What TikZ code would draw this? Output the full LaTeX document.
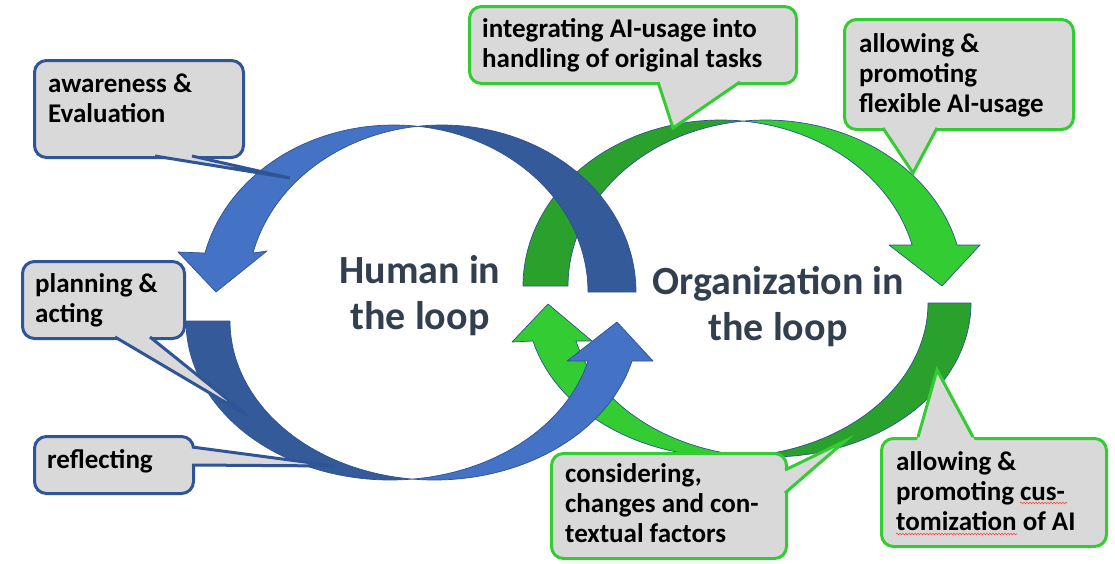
\documentclass[tikz,border=0pt]{standalone}
\usepackage{fontspec}
\setmainfont{Carlito}
\usetikzlibrary{calc,decorations.pathmorphing}

\definecolor{blueL}{RGB}{68,114,196}
\definecolor{blueD}{RGB}{52,90,154}
\definecolor{greenL}{RGB}{51,204,51}
\definecolor{greenD}{RGB}{42,161,44}
\definecolor{edgeline}{RGB}{47,82,143}
\definecolor{boxgray}{RGB}{217,217,217}
\definecolor{boxblue}{RGB}{47,85,151}
\definecolor{boxgreen}{RGB}{51,204,51}
\definecolor{slate}{RGB}{50,63,79}

\tikzset{
  band/.style={draw=edgeline, line width=0.7pt, line join=round},
  bandBL/.style={band, fill=blueL},
  bandBD/.style={band, fill=blueD},
  bandGL/.style={band, fill=greenL},
  bandGD/.style={band, fill=greenD},
  callbox/.style={fill=boxgray, draw=#1, line width=3pt, rounded corners=12pt, inner sep=0pt},
  % placed at the baseline of the last line
  calltext/.style={anchor=base west, inner sep=0pt, align=left,
    font=\fontsize{27}{30}\selectfont\bfseries},
  looptext/.style={anchor=base, inner sep=0pt, align=center, text=slate,
    font=\fontsize{40}{46}\selectfont\bfseries},
  spellmark/.style={red!75, line width=0.6pt, decorate,
    decoration={snake, amplitude=0.8pt, segment length=3pt}},
}

% pointer of a speech bubble: #1 border colour, #2/#4 base points, #3 tip
\newcommand\calloutwedge[4]{%
  \fill[boxgray] ($(#3)!1.15!(#2)$) -- (#3) -- ($(#3)!1.15!(#4)$) -- cycle;
  \draw[draw=#1, line width=3pt, line join=miter] (#2) -- (#3) -- (#4);
}

\begin{document}
\begin{tikzpicture}[x=1pt, y=-1pt]
\path[use as bounding box, fill=white] (0,0) rectangle (1115,563);

% ---- Organization loop (green) ----
% upper arrow: tail on the left, head pointing down on the right
\filldraw[bandGD]
  plot[domain=180:276.54, samples=60] ({720.6+197.6*cos(\x)},{286+166*sin(\x)})
  -- plot[domain=263.46:180, samples=60] ({765.6+197.6*cos(\x)},{286+166*sin(\x)}) -- cycle;
\filldraw[bandGL]
  plot[domain=263.46:345.7, samples=60] ({765.6+197.6*cos(\x)},{286+166*sin(\x)})
  -- (980,245) -- (942,286) -- (889,245)
  -- plot[domain=345.7:276.54, samples=60] ({720.6+197.6*cos(\x)},{286+166*sin(\x)}) -- cycle;
% lower arrow: tail on the right, head pointing up on the left
\filldraw[bandGD]
  plot[domain=0:96.15, samples=60] ({770.4+200.6*cos(\x)},{303+154*sin(\x)})
  -- plot[domain=83.85:0, samples=60] ({727.4+200.6*cos(\x)},{303+154*sin(\x)}) -- cycle;
\filldraw[bandGL]
  plot[domain=83.85:165.71, samples=60] ({727.4+200.6*cos(\x)},{303+154*sin(\x)})
  -- (512,342) -- (548,304) -- (592,341)
  -- plot[domain=165.71:96.15, samples=60] ({770.4+200.6*cos(\x)},{303+154*sin(\x)}) -- cycle;

% ---- Human loop (blue) ----
% upper arrow: tail on the right, head pointing down on the left
\filldraw[bandBD]
  plot[domain=262.9:360, samples=60] ({441.8+194.2*cos(\x)},{292+167*sin(\x)})
  -- plot[domain=360:277.1, samples=60] ({393.8+194.2*cos(\x)},{292+167*sin(\x)}) -- cycle;
\filldraw[bandBL]
  plot[domain=277.1:193.5, samples=60] ({393.8+194.2*cos(\x)},{292+167*sin(\x)})
  -- (178,252) -- (216,292) -- (267,251)
  -- plot[domain=193.5:262.9, samples=60] ({441.8+194.2*cos(\x)},{292+167*sin(\x)}) -- cycle;
% lower arrow: tail on the left, head pointing up on the right
\filldraw[bandBD]
  plot[domain=180:83.8, samples=60] ({390.3+204.3*cos(\x)},{321+159*sin(\x)})
  -- plot[domain=96.2:180, samples=60] ({434.3+204.3*cos(\x)},{321+159*sin(\x)}) -- cycle;
\filldraw[bandBL]
  plot[domain=96.2:14.57, samples=60] ({434.3+204.3*cos(\x)},{321+159*sin(\x)})
  -- (653,361) -- (617,322) -- (567,361)
  -- plot[domain=14.57:83.8, samples=60] ({390.3+204.3*cos(\x)},{321+159*sin(\x)}) -- cycle;

% ---- loop titles ----
\node[looptext] (human) at (420,329) {Human in\\the loop};
\node[looptext] (orga) at (778,340) {Organization in\\the loop};

% ---- speech bubbles, human side ----
\node[callbox=boxblue, minimum width=209pt, minimum height=97pt, anchor=north west] (boxA) at (33,59) {};
\coordinate (a1) at (155,156); \coordinate (a2) at (192,156); \coordinate (ta) at (290,178);
\calloutwedge{boxblue}{a1}{ta}{a2}
\node[calltext] (txtA) at (48,122) {awareness \&\\Evaluation};

\node[callbox=boxblue, minimum width=162pt, minimum height=77pt, anchor=north west] (boxB) at (21,260) {};
\coordinate (b1) at (115,337); \coordinate (b2) at (150,337); \coordinate (tb) at (247,415);
\calloutwedge{boxblue}{b1}{tb}{b2}
\node[calltext] (txtB) at (35,322) {planning \&\\acting};

\node[callbox=boxblue, minimum width=159pt, minimum height=57pt, anchor=north west] (boxC) at (33,435) {};
\coordinate (c1) at (192,447); \coordinate (c2) at (192,465); \coordinate (tc) at (335,466);
\calloutwedge{boxblue}{c1}{tc}{c2}
\node[calltext] (txtC) at (47,468) {reflecting};

% ---- speech bubbles, organization side ----
\node[callbox=boxgreen, minimum width=327pt, minimum height=77pt, anchor=north west] (boxD) at (468,5) {};
\coordinate (d1) at (658,82); \coordinate (d2) at (740,82); \coordinate (td) at (673,128);
\calloutwedge{boxgreen}{d1}{td}{d2}
\node[calltext] (txtD) at (482,67) {integrating AI-usage into\\handling of original tasks};

\node[callbox=boxgreen, minimum width=229pt, minimum height=110pt, anchor=north west] (boxE) at (843,18) {};
\coordinate (e1) at (883,128); \coordinate (e2) at (937,128); \coordinate (te) at (913,173);
\calloutwedge{boxgreen}{e1}{te}{e2}
\node[calltext] (txtE) at (859,112) {allowing \&\\promoting\\flexible AI-usage};

\node[callbox=boxgreen, minimum width=235pt, minimum height=105pt, anchor=north west] (boxF) at (550,452) {};
\coordinate (f1) at (785,470); \coordinate (f2) at (785,493); \coordinate (tf) at (845,441);
\calloutwedge{boxgreen}{f1}{tf}{f2}
\node[calltext] (txtF) at (565,542) {considering,\\changes and con-\\textual factors};

\node[callbox=boxgreen, minimum width=225pt, minimum height=108pt, anchor=north west] (boxG) at (880,437) {};
\coordinate (g1) at (918,437); \coordinate (g2) at (973,437); \coordinate (tg) at (937,370);
\calloutwedge{boxgreen}{g1}{tg}{g2}
\node[calltext] (txtG) at (896,530) {allowing \&\\promoting cus-\\tomization of AI};

% spell-check marks under the hyphenated word
\draw[spellmark] (1020,503) -- (1067,503);
\draw[spellmark] (896,534) -- (1017,534);
\end{tikzpicture}
\end{document}
